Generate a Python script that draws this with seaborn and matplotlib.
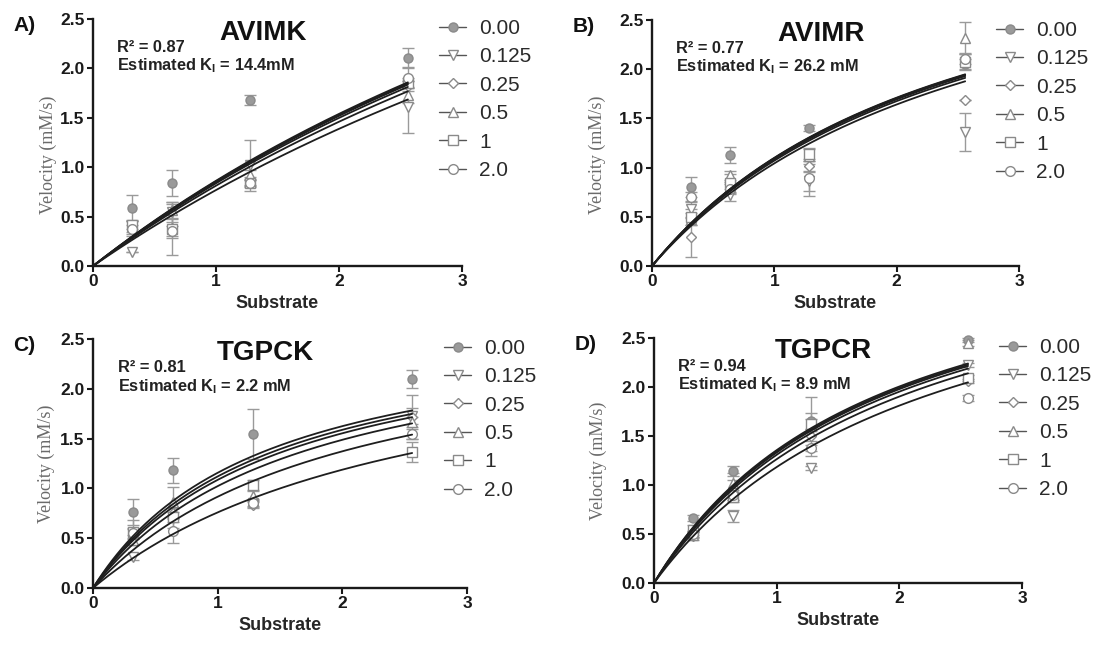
import numpy as np
import pandas as pd
import matplotlib
matplotlib.use("Agg")
import matplotlib.pyplot as plt
from matplotlib.lines import Line2D
import seaborn as sns

# Substrate concentrations and inhibitor levels shared by all four enzymes
substrate = [0.32, 0.64, 1.28, 2.56]
inhibitor_labels = ["0.00", "0.125", "0.25", "0.5", "1", "2.0"]
inhibitor_conc = [0.0, 0.125, 0.25, 0.5, 1.0, 2.0]

# Measured velocities (rows: inhibitor level, columns: substrate)
avimk_velocity = [
    [0.59, 0.84, 1.68, 2.11],
    [0.14, 0.55, 1.02, 1.61],
    [0.38, 0.38, 0.86, 1.82],
    [0.40, 0.57, 0.92, 1.73],
    [0.42, 0.37, 0.84, 1.85],
    [0.37, 0.35, 0.84, 1.90],
]
avimk_error = [
    [0.13, 0.13, 0.05, 0.10],
    [0.00, 0.10, 0.26, 0.26],
    [0.08, 0.10, 0.04, 0.05],
    [0.06, 0.08, 0.05, 0.08],
    [0.05, 0.26, 0.03, 0.05],
    [0.05, 0.05, 0.04, 0.10],
]
avimr_velocity = [
    [0.80, 1.13, 1.40, 2.05],
    [0.58, 0.72, 0.86, 1.36],
    [0.29, 0.80, 1.02, 1.69],
    [0.48, 0.92, 1.12, 2.32],
    [0.50, 0.84, 1.14, 2.07],
    [0.70, 0.78, 0.89, 2.10],
]
avimr_error = [
    [0.10, 0.08, 0.03, 0.05],
    [0.08, 0.06, 0.10, 0.19],
    [0.20, 0.05, 0.05, 0.00],
    [0.06, 0.05, 0.08, 0.16],
    [0.08, 0.10, 0.05, 0.08],
    [0.05, 0.05, 0.18, 0.05],
]
tgpck_velocity = [
    [0.76, 1.18, 1.55, 2.10],
    [0.31, 0.70, 0.85, 1.73],
    [0.54, 0.75, 0.83, 1.72],
    [0.48, 0.86, 0.92, 1.67],
    [0.56, 0.71, 1.03, 1.37],
    [0.55, 0.57, 0.85, 1.55],
]
tgpck_error = [
    [0.13, 0.13, 0.25, 0.09],
    [0.03, 0.10, 0.03, 0.08],
    [0.05, 0.05, 0.03, 0.22],
    [0.05, 0.15, 0.05, 0.05],
    [0.12, 0.05, 0.05, 0.10],
    [0.05, 0.12, 0.04, 0.05],
]
tgpcr_velocity = [
    [0.66, 1.14, 1.65, 2.48],
    [0.50, 0.68, 1.17, 2.22],
    [0.48, 0.95, 1.50, 2.06],
    [0.49, 1.02, 1.60, 2.45],
    [0.54, 0.88, 1.62, 2.09],
    [0.50, 0.90, 1.38, 1.89],
]
tgpcr_error = [
    [0.03, 0.05, 0.08, 0.02],
    [0.03, 0.06, 0.02, 0.02],
    [0.04, 0.10, 0.05, 0.02],
    [0.03, 0.10, 0.30, 0.03],
    [0.05, 0.05, 0.05, 0.03],
    [0.03, 0.05, 0.03, 0.03],
]

# Competitive-inhibition fit parameters for each enzyme
vmax_values = [7.16, 3.85, 2.73, 3.85]
km_values = [7.3, 2.5, 1.36, 1.84]
ki_values = [14.4, 26.2, 2.2, 8.9]

panel_letters = ["A)", "B)", "C)", "D)"]
panel_titles = ["AVIMK", "AVIMR", "TGPCK", "TGPCR"]
r_squared_text = ["0.87", "0.77", "0.81", "0.94"]
ki_text = ["14.4mM", "26.2 mM", "2.2 mM", "8.9 mM"]
x_ticks = [0, 1, 2, 3]
y_ticks = [0.0, 0.5, 1.0, 1.5, 2.0, 2.5]

velocities = [avimk_velocity, avimr_velocity, tgpck_velocity, tgpcr_velocity]
errors = [avimk_error, avimr_error, tgpck_error, tgpcr_error]

sns.set_theme(style="ticks")
plt.rcParams["font.family"] = ["Liberation Sans", "DejaVu Sans"]
plt.rcParams["mathtext.fontset"] = "custom"
plt.rcParams["mathtext.bf"] = "Liberation Sans:bold"
plt.rcParams["mathtext.rm"] = "Liberation Sans"

markers = ["o", "v", "D", "^", "s", "o"]
marker_sizes = [6.5, 7, 5, 7, 6.5, 7]
face_colors = ["#9a9a9a", "white", "white", "white", "white", "white"]
edge_color = "#8a8a8a"
curve_color = "#1e1e1e"

fig = plt.figure(figsize=(10.94, 6.46), dpi=100)
W, H = 1094, 646
# axes boxes in pixels: left, top, right, bottom
boxes = [(93, 19, 462, 266), (652, 20, 1019, 266),
         (93, 339, 467, 588), (654, 338, 1022, 583)]
legend_anchor = [(439, 19), (996, 21), (444, 339), (999, 338)]
# y-label placement: pixel gap left of the spine, fraction up the axis
ylabel_gap = [36, 46, 38, 47]
ylabel_frac = [0.45, 0.45, 0.5, 0.5]

for k in range(4):
    l, t, r, b = boxes[k]
    ax = fig.add_axes([l / W, 1 - b / H, (r - l) / W, (b - t) / H])

    # fitted curves
    s_grid = np.linspace(0, max(substrate), 200)
    rows = []
    for conc in inhibitor_conc:
        v = vmax_values[k] * s_grid / (km_values[k] * (1 + conc / ki_values[k]) + s_grid)
        rows.append(pd.DataFrame({"S": s_grid, "v": v, "inhibitor": conc}))
    curves = pd.concat(rows, ignore_index=True)
    sns.lineplot(data=curves, x="S", y="v", hue="inhibitor",
                 palette=[curve_color] * len(inhibitor_conc), legend=False,
                 linewidth=1.3, errorbar=None, sort=False, ax=ax, zorder=3)

    # measured points with error bars
    for i in range(len(inhibitor_conc)):
        ax.errorbar(substrate, velocities[k][i], yerr=errors[k][i],
                    fmt=markers[i], ms=marker_sizes[i], mfc=face_colors[i],
                    mec=edge_color, mew=1.0, ecolor="#9a9a9a", elinewidth=1.0,
                    capsize=4, capthick=1.0, linestyle="none", zorder=2,
                    clip_on=False)

    ax.set_xlim(0, 3)
    ax.set_ylim(0, 2.5)
    ax.set_xticks(x_ticks)
    ax.set_yticks(y_ticks)
    ax.set_xticklabels([str(v) for v in x_ticks])
    ax.set_yticklabels([f"{v:.1f}" for v in y_ticks])
    for lab in ax.get_xticklabels() + ax.get_yticklabels():
        lab.set_fontweight("bold")
        lab.set_fontsize(12.5)
        lab.set_color("#1a1a1a")
    ax.tick_params(axis="both", length=4, width=1.5, pad=2, color="#1a1a1a")
    for side in ["left", "bottom"]:
        ax.spines[side].set_linewidth(1.7)
        ax.spines[side].set_color("#1a1a1a")
    sns.despine(ax=ax)

    ax.set_xlabel("Substrate", fontsize=13, fontweight="bold", labelpad=4)
    ax.set_ylabel("Velocity (mM/s)", fontsize=13, color="#6a6a6a",
                  family=["Liberation Serif", "DejaVu Serif"])
    ax.yaxis.set_label_coords(-ylabel_gap[k] / (r - l), ylabel_frac[k])

    ax.text(0.46, 0.945, panel_titles[k], transform=ax.transAxes, ha="center",
            va="center", fontsize=20, fontweight="bold", color="#111111")
    ax.text(-0.185, 0.975, panel_letters[k], transform=ax.transAxes, ha="center",
            va="center", fontsize=15, fontweight="bold", color="#111111")
    ax.text(0.066, 0.885, f"R\u00b2 = {r_squared_text[k]}", transform=ax.transAxes,
            ha="left", va="center", fontsize=11.8, fontweight="bold", color="#222222")
    ax.text(0.066, 0.81, r"Estimated K$_\mathbf{I}$" + f" = {ki_text[k]}",
            transform=ax.transAxes, ha="left", va="center", fontsize=11.8,
            fontweight="bold", color="#222222")

    handles = [Line2D([0], [0], color="#555555", lw=1.0, marker=markers[i],
                      ms=marker_sizes[i], mfc=face_colors[i], mec=edge_color, mew=1.0)
               for i in range(len(inhibitor_conc))]
    lx, ly = legend_anchor[k]
    leg = fig.legend(handles, inhibitor_labels, loc="upper left",
                     bbox_to_anchor=(lx / W, 1 - ly / H), frameon=False,
                     fontsize=15, handlelength=1.3, handletextpad=0.62,
                     labelspacing=0.45, borderpad=0, borderaxespad=0)
    for txt in leg.get_texts():
        txt.set_color("#2a2a2a")

fig.savefig("out.png", dpi=100)
